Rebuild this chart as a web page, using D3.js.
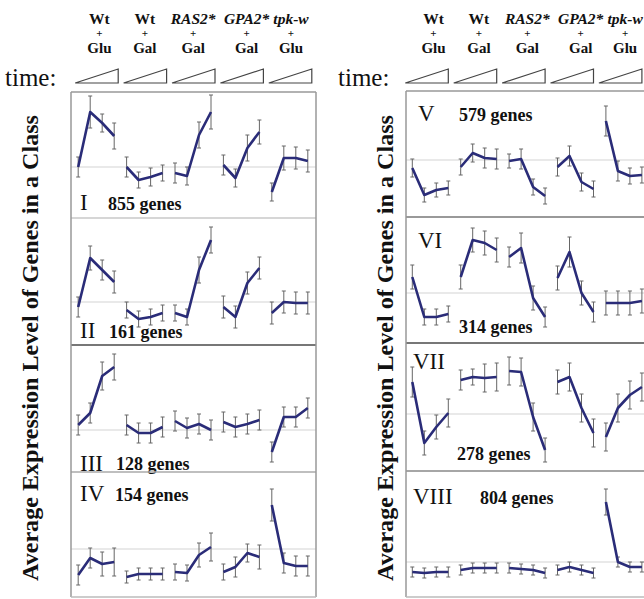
<!DOCTYPE html>
<html>
<head>
<meta charset="utf-8">
<script src="https://cdn.jsdelivr.net/npm/d3@7"></script>
<style>
  body { margin: 0; background: #fff; }
  svg text { font-family: "Liberation Serif", "Times New Roman", serif; fill: #111; }
</style>
</head>
<body>
<div id="chart"></div>
<script>
// conditions and time course
const strains = ["Wt", "Wt", "RAS2*", "GPA2*", "tpk-w"];
const sugars = ["Glu", "Gal", "Gal", "Gal", "Glu"];
const italicStrain = [false, false, true, true, true];
const timePoints = [0, 1, 2, 3];

const classNames = ["I", "II", "III", "IV", "V", "VI", "VII", "VIII"];
const geneCounts = [855, 161, 128, 154, 579, 314, 278, 804];

// average expression per condition (4 time points each) and error bars
const meanI = [[0, 1.10, 0.88, 0.62], [0, -0.26, -0.20, -0.12], [-0.12, -0.18, 0.64, 1.10], [0.04, -0.22, 0.38, 0.70], [-0.50, 0.18, 0.18, 0.12]];
const errI = [[0.20, 0.32, 0.18, 0.26], [0.20, 0.16, 0.18, 0.16], [0.20, 0.18, 0.26, 0.34], [0.20, 0.18, 0.26, 0.24], [0.18, 0.24, 0.22, 0.22]];

const meanII = [[-0.10, 0.88, 0.64, 0.40], [-0.16, -0.34, -0.30, -0.22], [-0.22, -0.30, 0.64, 1.24], [-0.10, -0.30, 0.38, 0.68], [-0.22, 0, -0.02, -0.02]];
const errII = [[0.20, 0.24, 0.20, 0.22], [0.16, 0.16, 0.16, 0.16], [0.16, 0.16, 0.26, 0.26], [0.22, 0.22, 0.22, 0.22], [0.22, 0.22, 0.22, 0.22]];

const meanIII = [[0.10, 0.34, 1.08, 1.26], [0.10, -0.06, -0.06, 0.06], [0.18, 0.04, 0.12, 0], [0.16, 0.06, 0.12, 0.20], [-0.44, 0.26, 0.26, 0.44]];
const errIII = [[0.20, 0.20, 0.28, 0.26], [0.20, 0.20, 0.20, 0.20], [0.20, 0.20, 0.20, 0.20], [0.20, 0.20, 0.20, 0.20], [0.20, 0.20, 0.20, 0.20]];

const meanIV = [[-0.52, -0.18, -0.30, -0.26], [-0.56, -0.50, -0.50, -0.50], [-0.46, -0.48, -0.12, 0.04], [-0.46, -0.36, -0.08, -0.16], [0.88, -0.28, -0.34, -0.34]];
const errIV = [[0.20, 0.20, 0.24, 0.28], [0.12, 0.12, 0.12, 0.12], [0.16, 0.16, 0.24, 0.28], [0.16, 0.20, 0.18, 0.24], [0.32, 0.20, 0.20, 0.20]];

const meanV = [[-0.16, -0.70, -0.60, -0.56], [-0.14, 0.14, 0.04, 0.02], [-0.02, 0.02, -0.54, -0.72], [-0.14, 0.08, -0.44, -0.58], [0.78, -0.22, -0.32, -0.30]];
const errV = [[0.18, 0.14, 0.14, 0.14], [0.16, 0.18, 0.20, 0.20], [0.14, 0.20, 0.16, 0.16], [0.18, 0.20, 0.18, 0.16], [0.30, 0.20, 0.16, 0.16]];

const meanVI = [[0.32, -0.48, -0.48, -0.42], [0.32, 1.06, 1.00, 0.86], [0.72, 0.90, -0.10, -0.48], [0.30, 0.82, 0, -0.38], [-0.20, -0.20, -0.20, -0.16]];
const errVI = [[0.24, 0.16, 0.16, 0.16], [0.24, 0.24, 0.24, 0.24], [0.20, 0.30, 0.24, 0.20], [0.24, 0.30, 0.24, 0.20], [0.24, 0.24, 0.24, 0.24]];

const meanVII = [[0.64, -0.58, -0.26, 0.02], [0.68, 0.74, 0.72, 0.74], [0.86, 0.84, -0.06, -0.72], [0.64, 0.74, 0.12, -0.38], [-0.46, 0.12, 0.38, 0.54]];
const errVII = [[0.30, 0.24, 0.24, 0.28], [0.20, 0.16, 0.28, 0.28], [0.28, 0.28, 0.28, 0.24], [0.24, 0.28, 0.28, 0.28], [0.28, 0.28, 0.28, 0.28]];

const meanVIII = [[-0.20, -0.22, -0.20, -0.20], [-0.16, -0.12, -0.12, -0.12], [-0.12, -0.14, -0.16, -0.22], [-0.16, -0.10, -0.16, -0.22], [1.20, 0, -0.10, -0.10]];
const errVIII = [[0.10, 0.10, 0.10, 0.10], [0.10, 0.10, 0.10, 0.10], [0.10, 0.10, 0.10, 0.10], [0.10, 0.10, 0.10, 0.10], [0.26, 0.10, 0.10, 0.10]];

const allMeans = [meanI, meanII, meanIII, meanIV, meanV, meanVI, meanVII, meanVIII];
const allErrs = [errI, errII, errIII, errIV, errV, errVI, errVII, errVIII];

// layout (pixels)
const width = 644, height = 599;
const lineColor = "#2a2c78";
const labelShift = [3, 0, 0, 5, 1];
const columns = [
    { frameX0: 71, frameX1: 316, bandX0: 72.2, titleX: 30, timeX: 5, triOff: 3,
      tops: [92, 218, 345, 472], bottom: 597, zeros: [167, 302, 430, 549],
      sepColors: ["#999", "#c8c8c8", "#777", "#aaa"],
      numX: [80, 80, 80, 80], numY: [210, 338, 471, 501],
      cntX: [108, 109, 116, 115], cntY: [210, 338, 470, 501] },
    { frameX0: 406, frameX1: 670, bandX0: 406.3, titleX: 385, timeX: 338, triOff: -1,
      tops: [91, 217, 343, 471], bottom: 597, zeros: [160, 293, 414, 562],
      sepColors: ["#999", "#777", "#777", "#888"],
      numX: [418, 418, 413, 413], numY: [121, 248, 369, 504],
      cntX: [459, 459, 457, 480], cntY: [121, 333, 460, 504] }
];
const unitPx = 50;

const svg = d3.select("#chart").append("svg")
    .attr("width", width)
    .attr("height", height);

const inner = d3.scaleLinear().domain([0, 3]).range([6, 42]);

columns.forEach((col, ci) => {
    const g = svg.append("g");
    const band = d3.scaleBand()
        .domain(d3.range(strains.length))
        .range([col.bandX0, col.bandX0 + 48.4 * strains.length]);

    // header labels: strain / + / sugar
    strains.forEach((s, i) => {
        const cx = band(i) + band.bandwidth() / 2 + labelShift[i];
        g.append("text").attr("x", cx).attr("y", 23.5)
            .attr("text-anchor", "middle")
            .style("font-size", "15.5px").style("font-weight", "bold")
            .style("font-style", italicStrain[i] ? "italic" : "normal")
            .text(s);
        g.append("text").attr("x", cx).attr("y", 37)
            .attr("text-anchor", "middle")
            .style("font-size", "11px").style("font-weight", "bold")
            .text("+");
        g.append("text").attr("x", cx).attr("y", 53)
            .attr("text-anchor", "middle")
            .style("font-size", "15px").style("font-weight", "bold")
            .text(sugars[i]);

        // time ramp triangle
        const tx0 = band(i) + col.triOff, tx1 = tx0 + 43;
        g.append("path")
            .attr("d", `M${tx0},83 L${tx1},83 L${tx1},69 Z`)
            .attr("fill", "none")
            .attr("stroke", "#444")
            .attr("stroke-width", 1.2);
    });

    g.append("text").attr("x", col.timeX).attr("y", 86)
        .style("font-size", "25px")
        .text("time:");

    // y title
    g.append("text")
        .attr("transform", `translate(${col.titleX},348) rotate(-90)`)
        .attr("text-anchor", "middle")
        .attr("dy", "0.35em")
        .attr("textLength", 466)
        .attr("lengthAdjust", "spacingAndGlyphs")
        .style("font-size", "23px").style("font-weight", "bold")
        .text("Average Expression Level of Genes in a Class");

    // panels
    col.tops.forEach((top, pi) => {
        const k = ci * 4 + pi;
        const zero = col.zeros[pi];
        const y = d3.scaleLinear().domain([0, 1]).range([zero, zero - unitPx]);
        const pg = g.append("g");

        // zero line
        pg.append("line")
            .attr("x1", col.frameX0).attr("x2", col.frameX1)
            .attr("y1", y(0)).attr("y2", y(0))
            .attr("stroke", "#e2e2e2").attr("stroke-width", 1.5);

        allMeans[k].forEach((series, si) => {
            const pts = series.map((v, t) => ({
                x: band(si) + inner(timePoints[t]), m: v, e: allErrs[k][si][t]
            }));
            // error bars
            pg.selectAll(null).data(pts).enter().append("path")
                .attr("d", d => `M${d.x},${y(d.m - d.e)}V${y(d.m + d.e)}` +
                    `M${d.x - 2},${y(d.m - d.e)}h4M${d.x - 2},${y(d.m + d.e)}h4`)
                .attr("stroke", "#666").attr("stroke-width", 1).attr("fill", "none");
            pg.append("path")
                .datum(pts)
                .attr("d", d3.line().x(d => d.x).y(d => y(d.m)))
                .attr("fill", "none")
                .attr("stroke", lineColor)
                .attr("stroke-width", 2.6)
                .attr("stroke-linejoin", "round");
        });

        pg.append("text").attr("x", col.numX[pi]).attr("y", col.numY[pi])
            .style("font-size", "23px")
            .text(classNames[k]);
        pg.append("text").attr("x", col.cntX[pi]).attr("y", col.cntY[pi])
            .style("font-size", "18px").style("font-weight", "bold")
            .text(geneCounts[k] + " genes");

        // separator at top of each panel
        pg.append("line")
            .attr("x1", col.frameX0).attr("x2", col.frameX1)
            .attr("y1", top).attr("y2", top)
            .attr("stroke", col.sepColors[pi]).attr("stroke-width", pi === 2 ? 2 : 1.5);
    });

    // frame
    g.append("line").attr("x1", col.frameX0).attr("x2", col.frameX0)
        .attr("y1", col.tops[0]).attr("y2", col.bottom)
        .attr("stroke", "#999").attr("stroke-width", 1.5);
    g.append("line").attr("x1", col.frameX1).attr("x2", col.frameX1)
        .attr("y1", col.tops[0]).attr("y2", col.bottom)
        .attr("stroke", "#999").attr("stroke-width", 1.5);
    g.append("line").attr("x1", col.frameX0).attr("x2", col.frameX1)
        .attr("y1", col.bottom).attr("y2", col.bottom)
        .attr("stroke", "#bbb").attr("stroke-width", 1.5);
});
</script>
</body>
</html>
